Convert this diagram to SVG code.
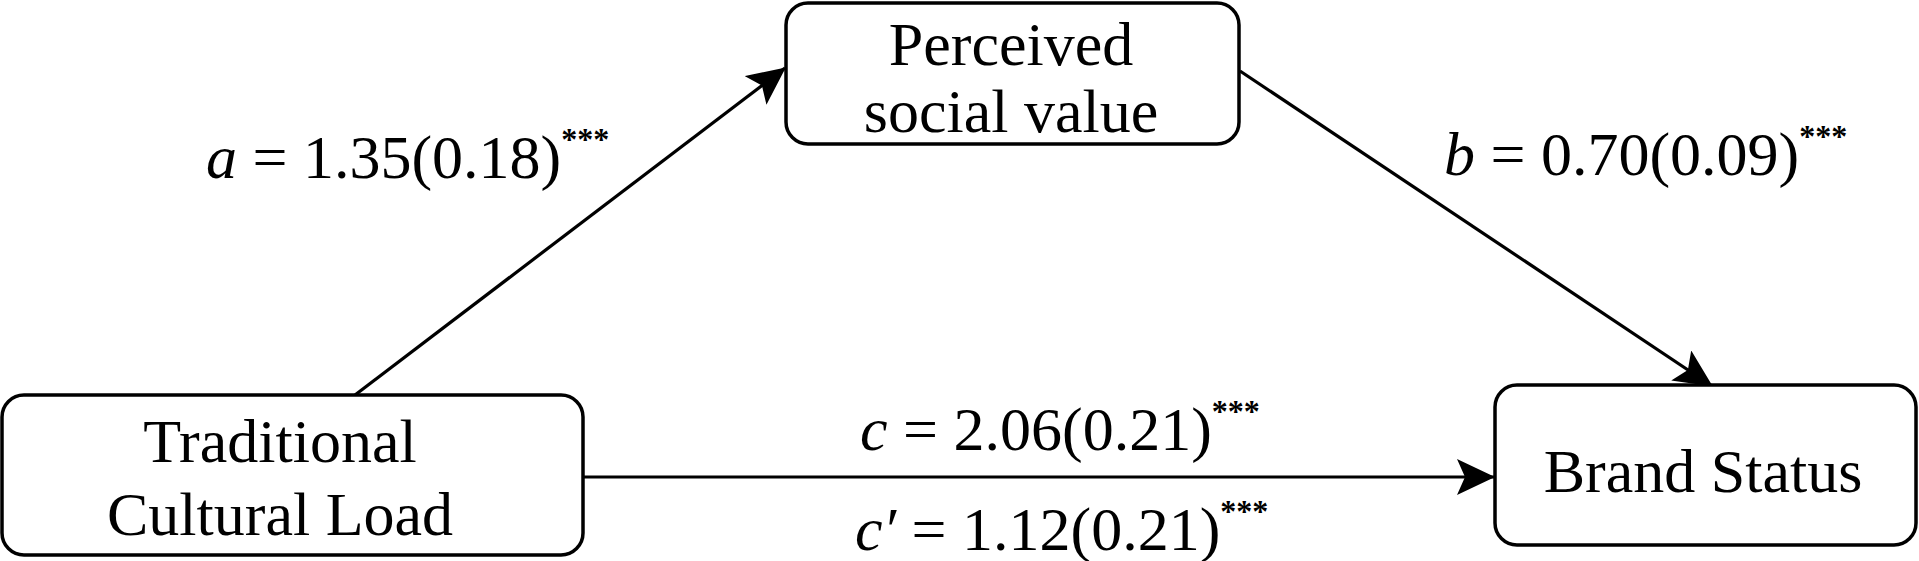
<svg xmlns="http://www.w3.org/2000/svg" width="1919" height="561" viewBox="0 0 1919 561">
<style>
.box{fill:#fff;stroke:#000;stroke-width:3.5}
.t{font-family:"Liberation Serif","Times New Roman",serif;font-size:62px;fill:#000}
.m{text-anchor:middle}
.i{font-style:italic}
.s{font-size:32px;font-weight:bold}
.ln{stroke:#000;stroke-width:3.2;fill:none}
</style>
<defs>
<marker id="ah" markerUnits="userSpaceOnUse" viewBox="0 0 38 36" markerWidth="38" markerHeight="36" refX="37" refY="18" orient="auto">
<path d="M0,0 L38,18 L0,36 L8,18 z" fill="#000"/>
</marker>
</defs>
<rect width="1919" height="561" fill="#fff"/>
<g id="connectors">
<line class="ln" x1="355" y1="395" x2="785" y2="68" marker-end="url(#ah)"/>
<line class="ln" x1="1240" y1="71" x2="1712" y2="386" marker-end="url(#ah)"/>
<line class="ln" x1="583" y1="477" x2="1494" y2="477" marker-end="url(#ah)"/>
</g>
<g id="node-tcl">
<rect class="box" x="2" y="395" width="581" height="160" rx="22"/>
<text class="t m" x="280" y="462">Traditional</text>
<text class="t m" x="280" y="535">Cultural Load</text>
</g>
<g id="node-psv">
<rect class="box" x="786" y="3" width="453" height="141" rx="22"/>
<text class="t m" x="1011" y="65">Perceived</text>
<text class="t m" x="1011" y="132">social value</text>
</g>
<g id="node-bs">
<rect class="box" x="1495" y="385" width="421" height="160" rx="22"/>
<text class="t m" x="1703" y="492">Brand Status</text>
</g>
<g id="labels">
<text class="t" x="206" y="178" font-size="61"><tspan class="i">a</tspan> = 1.35(0.18)<tspan class="s" dy="-28">***</tspan></text>
<text class="t" x="1444" y="175"><tspan class="i">b</tspan> = 0.70(0.09)<tspan class="s" dy="-28">***</tspan></text>
<text class="t" x="860" y="450"><tspan class="i">c</tspan> = 2.06(0.21)<tspan class="s" dy="-28">***</tspan></text>
<text class="t" x="855" y="550"><tspan class="i">c′</tspan> = 1.12(0.21)<tspan class="s" dy="-28">***</tspan></text>
</g>
</svg>
